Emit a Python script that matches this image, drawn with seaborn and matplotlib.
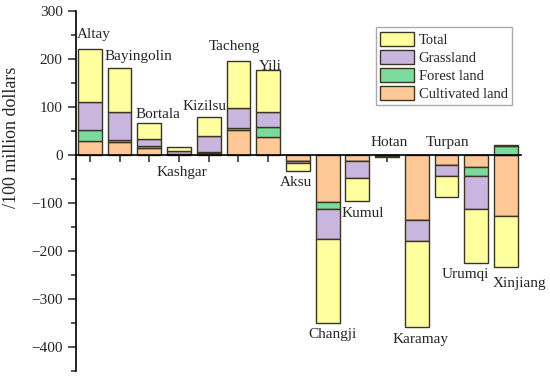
import numpy as np
import pandas as pd
import matplotlib
matplotlib.use("Agg")
import matplotlib.pyplot as plt
import seaborn as sns
from matplotlib.patches import Patch
from matplotlib.ticker import MultipleLocator

# Datos (100 millones de dolares)
regions = ["Altay", "Bayingolin", "Bortala", "Kashgar", "Kizilsu", "Tacheng", "Yili",
           "Aksu", "Changji", "Kumul", "Hotan", "Karamay", "Turpan", "Urumqi", "Xinjiang"]
cultivated = [29, 28, 14, 2, 5, 51, 38, -12, -98, -12, -1, -135, -20, -26, -127]
forest = [23, 3, 4, 1, 0.5, 6, 20, -1, -14, -1, -0.5, -1, -1, -17, 19]
grassland = [58, 59.5, 15, 5, 34, 41, 31, -4, -63, -35, -1, -43, -23, -69, 1]
total = [110, 90.5, 33, 8, 39.5, 98, 89, -17, -175, -48, -2.5, -179, -44, -112, -107]

# posiciones de las etiquetas (x en indice de barra, y en datos)
label_pos = {
    "Altay": (0.13, 250), "Bayingolin": (1.65, 206), "Bortala": (2.29, 85),
    "Kashgar": (3.1, -37), "Kizilsu": (3.87, 100), "Tacheng": (4.88, 225),
    "Yili": (6.06, 185), "Aksu": (6.93, -58), "Changji": (8.15, -373),
    "Kumul": (9.19, -121), "Hotan": (10.06, 25), "Karamay": (11.11, -385),
    "Turpan": (12.02, 25), "Urumqi": (12.62, -248), "Xinjiang": (14.44, -267),
}

series = [("Cultivated land", cultivated, "#FFC896"),
          ("Forest land", forest, "#7ADB9C"),
          ("Grassland", grassland, "#C9B6DE"),
          ("Total", total, "#FFFFA0")]

sns.set_style("ticks")
plt.rcParams["font.family"] = ["Liberation Serif", "DejaVu Serif"]
plt.rcParams["font.size"] = 11

fig = plt.figure(figsize=(5.5, 3.78), dpi=100)
ax = fig.add_axes([0.138, 0.0185, 0.809, 0.9525])

pos_base = np.zeros(len(regions))
neg_base = np.zeros(len(regions))
for name, vals, color in series:
    vals = np.array(vals, dtype=float)
    bottom = np.where(vals >= 0, pos_base, neg_base)
    df = pd.DataFrame({"region": regions, "value": vals})
    sns.barplot(data=df, x="region", y="value", bottom=bottom, color=color,
                saturation=1, width=0.8, errorbar=None, edgecolor="#3b3526",
                linewidth=1.0, ax=ax)
    pos_base = pos_base + np.where(vals >= 0, vals, 0)
    neg_base = neg_base + np.where(vals < 0, vals, 0)

for name, (x, y) in label_pos.items():
    ax.text(x, y, name, ha="center", va="center", fontsize=11)

ax.set_xlim(-0.47, 14.5)
ax.set_ylim(-450, 300)
ax.yaxis.set_major_locator(MultipleLocator(100))
ax.yaxis.set_minor_locator(MultipleLocator(50))
ax.set_yticks(np.arange(-400, 301, 100))
ax.set_yticklabels([f"{v}".replace("-", "\u2212") for v in range(-400, 301, 100)])
ax.tick_params(axis="y", which="major", length=6, width=1.1, direction="out", labelsize=11)
ax.tick_params(axis="y", which="minor", length=3.5, width=1.1, direction="out")
ax.tick_params(axis="x", which="major", length=5, width=1.1, direction="out", labelbottom=False)
ax.set_xlabel("")
ax.set_ylabel("/100 million dollars", fontsize=13)
ax.yaxis.set_label_coords(-0.125, 0.65)

ax.spines["top"].set_visible(False)
ax.spines["right"].set_visible(False)
ax.spines["bottom"].set_position(("data", 0))
ax.spines["left"].set_linewidth(1.2)
ax.spines["bottom"].set_linewidth(1.2)
ax.spines["left"].set_color("black")
ax.spines["bottom"].set_color("black")
ax.set_zorder(1)
for sp in ax.spines.values():
    sp.set_zorder(5)

handles = [Patch(facecolor=c, edgecolor="#3b3526", linewidth=1.0, label=n)
           for n, v, c in reversed(series)]
leg = ax.legend(handles=handles, loc="upper left", bbox_to_anchor=(0.674, 0.955),
                frameon=True, fancybox=False, edgecolor="#aaaaaa", framealpha=1,
                handlelength=2.3, handleheight=1.15, handletextpad=0.35,
                labelspacing=0.2, borderpad=0.3, borderaxespad=0, fontsize=10.5)
leg.get_frame().set_linewidth(1.0)

fig.savefig("out.png", dpi=100)
